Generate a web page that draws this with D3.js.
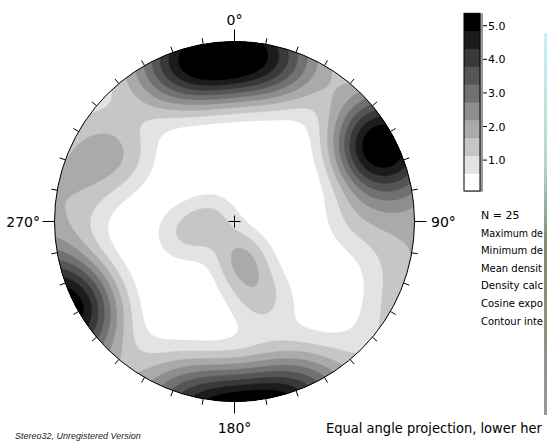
<!DOCTYPE html>
<html>
<head>
<meta charset="utf-8">
<script src="https://cdn.jsdelivr.net/npm/d3@7"></script>
<style>
  body { margin: 0; background: #fff; }
  svg { display: block; }
</style>
</head>
<body>
<svg id="chart" width="547" height="441"></svg>
<script>
// poles: [trend, plunge] in degrees, estimated from the density pattern
const poles = [
  [334, 3], [339, 6], [344, 2], [349, 7], [354, 4], [359, 8], [4, 3], [9, 6], [15, 2], [22, 4],
  [58, 6], [64, 9], [68, 3], [61, 12], [244, 1], [240, 2],
  [296, 6], [300, 18],
  [88, 21], [275, 2],
  [281, 76], [256, 57], [170, 71], [167, 58], [160, 38]
]
const cosineExponent = 20
const densityScale = 1.2
const minDensity = 0.08
const maxDensity = 5.37
const nLevels = 10
const legendTicks = [1.0, 2.0, 3.0, 4.0, 5.0]
const azimuthLabels = [[0, '0°'], [90, '90°'], [180, '180°'], [270, '270°']]
// visible part of the statistics block (cut by the window edge in the reference)
const infoLines = ['N = 25', 'Maximum de', 'Minimum de', 'Mean densit', 'Density calc', 'Cosine expo', 'Contour inte']
const infoWidths = [0, 62, 62, 61, 62, 62, 62]
const footer = 'Equal angle projection, lower her'

const svg = d3.select('#chart')
const R = 180
const cx = 234.5
const cy = 221.5
const rad = Math.PI / 180

// 极点方向向量
const vecs = poles.map(([t, p]) => [
  Math.cos(p * rad) * Math.sin(t * rad),
  Math.cos(p * rad) * Math.cos(t * rad),
  Math.sin(p * rad)
])

function density(x, y) {
  // 等角投影反算 (lower hemisphere)
  const rho = Math.sqrt(x * x + y * y) / R
  const phi = 2 * Math.atan(rho)
  const t = Math.atan2(x, -y)
  const v = [Math.sin(phi) * Math.sin(t), Math.sin(phi) * Math.cos(t), Math.cos(phi)]
  let s = 0
  vecs.forEach(p => {
    const d = Math.abs(p[0] * v[0] + p[1] * v[1] + p[2] * v[2])
    s += Math.pow(d, cosineExponent)
  })
  return densityScale * s * (cosineExponent + 1) / poles.length
}

const n = 200
const ext = 1.04 * R
const step = 2 * ext / n
const values = new Array(n * n)
for (let j = 0; j < n; j++) {
  for (let i = 0; i < n; i++) {
    values[j * n + i] = density(-ext + (i + 0.5) * step, -ext + (j + 0.5) * step)
  }
}

const interval = (maxDensity - minDensity) / nLevels
const thresholds = d3.range(1, nLevels).map(i => minDensity + i * interval)
const grey = i => { const g = Math.round(255 - i * 255 / (nLevels - 1)); return `rgb(${g},${g},${g})` }

const contours = d3.contours().size([n, n]).thresholds(thresholds)(values)
const path = d3.geoPath(d3.geoIdentity().scale(step).translate([cx - ext, cy - ext]))

svg.append('clipPath').attr('id', 'net')
  .append('circle').attr('cx', cx).attr('cy', cy).attr('r', R)

const g = svg.append('g').attr('clip-path', 'url(#net)')
g.append('circle').attr('cx', cx).attr('cy', cy).attr('r', R).attr('fill', '#fff')
g.selectAll('path')
  .data(contours)
  .enter()
  .append('path')
  .attr('d', path)
  .attr('fill', (d, i) => grey(i + 1))
  .attr('stroke', (d, i) => grey(i + 1))
  .attr('stroke-width', 0.5)

svg.append('circle')
  .attr('cx', cx).attr('cy', cy).attr('r', R)
  .attr('fill', 'none').attr('stroke', '#000').attr('stroke-width', 1)

// 刻度
d3.range(0, 360, 10).forEach(a => {
  const len = a % 90 === 0 ? 12 : 6
  const s = Math.sin(a * rad)
  const c = Math.cos(a * rad)
  svg.append('line')
    .attr('x1', cx + R * s).attr('y1', cy - R * c)
    .attr('x2', cx + (R + len) * s).attr('y2', cy - (R + len) * c)
    .attr('stroke', '#000').attr('stroke-width', 1)
})

// center cross
svg.append('path')
  .attr('d', `M${cx - 6},${cy}H${cx + 6}M${cx},${cy - 6}V${cy + 6}`)
  .attr('stroke', '#000').attr('stroke-width', 1)

const labelPos = { 0: [cx, 25, 'middle'], 90: [431, 227, 'start'], 180: [cx, 433, 'middle'], 270: [40, 227, 'end'] }
azimuthLabels.forEach(([a, txt]) => {
  const [x, y, anchor] = labelPos[a]
  svg.append('text')
    .attr('x', x).attr('y', y)
    .attr('text-anchor', anchor)
    .attr('font-family', 'DejaVu Sans, Verdana, sans-serif')
    .attr('font-size', 14)
    .attr('fill', '#000')
    .text(txt)
})

// legend
const ly = d3.scaleLinear().domain([minDensity, maxDensity]).range([191, 13.3])
const legend = svg.append('g')
legend.append('rect').attr('x', 465).attr('y', 13.3).attr('width', 18).attr('height', 178.5).attr('fill', '#999')
d3.range(nLevels).forEach(i => {
  legend.append('rect')
    .attr('x', 464).attr('y', ly(minDensity + (i + 1) * interval))
    .attr('width', 16).attr('height', ly(minDensity) - ly(minDensity + interval) + 0.3)
    .attr('fill', grey(i))
})
legend.append('rect').attr('x', 464).attr('y', 13.3).attr('width', 16).attr('height', 177.7)
  .attr('fill', 'none').attr('stroke', '#000').attr('stroke-width', 1)
legendTicks.forEach(v => {
  legend.append('line').attr('x1', 483).attr('x2', 487).attr('y1', ly(v)).attr('y2', ly(v))
    .attr('stroke', '#000')
  legend.append('text').attr('x', 488).attr('y', ly(v) + 4)
    .attr('font-family', 'DejaVu Sans, Verdana, sans-serif').attr('font-size', 11)
    .attr('fill', '#000')
    .text(d3.format('.1f')(v))
})

infoLines.forEach((txt, i) => {
  const t = svg.append('text')
    .attr('x', 481).attr('y', 219 + i * 17.6)
    .attr('font-family', 'DejaVu Sans, Verdana, sans-serif').attr('font-size', 11)
    .attr('fill', '#000')
    .text(txt)
  if (infoWidths[i]) t.attr('textLength', infoWidths[i]).attr('lengthAdjust', 'spacingAndGlyphs')
})
svg.append('text')
  .attr('x', 326).attr('y', 433)
  .attr('font-family', 'DejaVu Sans, Verdana, sans-serif').attr('font-size', 14)
  .attr('textLength', 216).attr('lengthAdjust', 'spacingAndGlyphs')
  .attr('fill', '#000')
  .text(footer)

svg.append('text')
  .attr('x', 15).attr('y', 439)
  .attr('font-family', 'Liberation Sans, Arial, sans-serif').attr('font-size', 9)
  .attr('font-style', 'italic')
  .attr('fill', '#222')
  .text('Stereo32, Unregistered Version')

// right edge strip
const grad = svg.append('linearGradient').attr('id', 'strip').attr('x1', 0).attr('x2', 0).attr('y1', 0).attr('y2', 1)
grad.append('stop').attr('offset', '0%').attr('stop-color', '#c6f3f6')
grad.append('stop').attr('offset', '35%').attr('stop-color', '#b5d6cf')
grad.append('stop').attr('offset', '55%').attr('stop-color', '#7d8c70')
grad.append('stop').attr('offset', '100%').attr('stop-color', '#9a9a94')
svg.append('rect').attr('x', 544).attr('y', 33).attr('width', 3).attr('height', 382).attr('fill', 'url(#strip)')
</script>
</body>
</html>
